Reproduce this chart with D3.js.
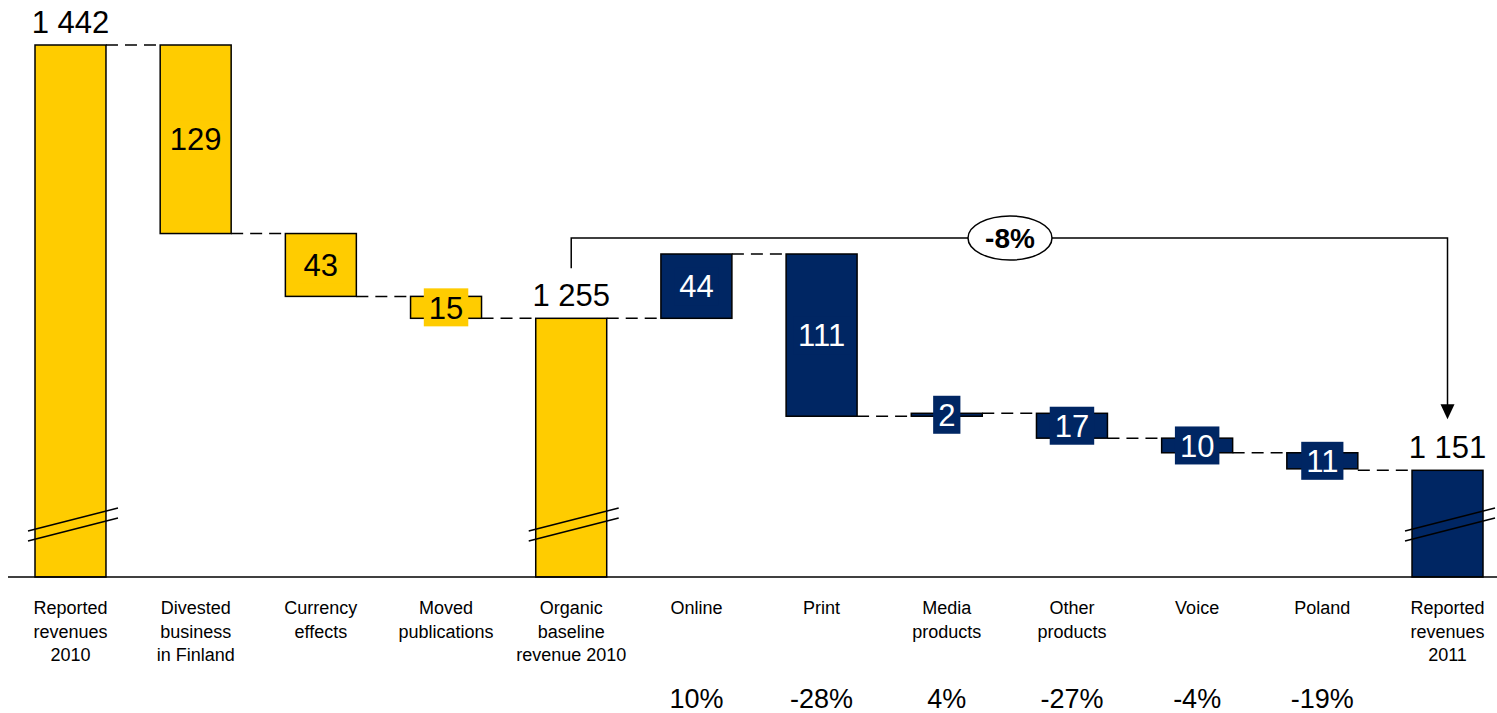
<!DOCTYPE html>
<html lang="en">
<head>
    <meta charset="UTF-8">
    <title>Revenue bridge 2010 - 2011</title>
    <script src="https://d3js.org/d3.v7.min.js"></script>
    <style>
        body {
            margin: 0;
            background: #fff;
            font-family: "Liberation Sans", Arial, sans-serif;
        }
        svg text {
            font-family: "Liberation Sans", Arial, sans-serif;
        }
        .bar {
            stroke: #000;
            stroke-width: 1.5px;
        }
        .connector {
            stroke: #000;
            stroke-width: 1.5px;
            stroke-dasharray: 12 7;
        }
        .cat {
            font-size: 18px;
            fill: #000;
        }
        .pct {
            font-size: 27px;
            fill: #000;
        }
    </style>
</head>
<body>
    <svg width="1497" height="713"></svg>
    <script>
        // chart data
        const categories = [
            ["Reported", "revenues", "2010"],
            ["Divested", "business", "in Finland"],
            ["Currency", "effects"],
            ["Moved", "publications"],
            ["Organic", "baseline", "revenue 2010"],
            ["Online"],
            ["Print"],
            ["Media", "products"],
            ["Other", "products"],
            ["Voice"],
            ["Poland"],
            ["Reported", "revenues", "2011"]
        ];
        const values = [1442, -129, -43, -15, 1255, 44, -111, 2, -17, -10, -11, 1151];
        const isTotal = [true, false, false, false, true, false, false, false, false, false, false, true];
        const valueLabels = ["1 442", "129", "43", "15", "1 255", "44", "111", "2", "17", "10", "11", "1 151"];
        const groups = ["adj", "adj", "adj", "adj", "adj", "org", "org", "org", "org", "org", "org", "org"];
        const growth = ["", "", "", "", "", "10%", "-28%", "4%", "-27%", "-4%", "-19%", ""];
        const totalChange = "-8%";
        const axisFloor = 1078;   // broken axis: bars start from here

        const svg = d3.select("svg"),
            width = +svg.attr("width"),
            baseY = 577;

        const ids = categories.map((c, i) => i);

        const x = d3.scaleBand()
            .domain(ids)
            .range([35, 1483])
            .paddingInner(0.433)
            .paddingOuter(0);

        const y = d3.scaleLinear()
            .domain([axisFloor, 1442])
            .range([baseY, 45]);

        const color = d3.scaleOrdinal()
            .domain(["adj", "org"])
            .range(["#FFCC00", "#002663"]);
        const textColor = d3.scaleOrdinal()
            .domain(["adj", "org"])
            .range(["#000", "#fff"]);

        // running levels of the waterfall
        let level = 0;
        const bars = values.map((v, i) => {
            let start, end;
            if (isTotal[i]) {
                start = axisFloor; end = v; level = v;
            } else {
                start = level; end = level + v; level = end;
            }
            return {i, v, start, end, total: isTotal[i], label: valueLabels[i], group: groups[i]};
        });

        // connectors
        const connectors = svg.append("g");
        bars.slice(0, -1).forEach((b, k) => {
            const next = bars[k + 1];
            const lvl = next.total ? next.end : b.end;
            connectors.append("line")
                .attr("class", "connector")
                .attr("x1", x(b.i) + x.bandwidth())
                .attr("x2", x(next.i))
                .attr("y1", y(lvl))
                .attr("y2", y(lvl));
        });

        // bars
        const barG = svg.append("g");
        barG.selectAll("rect")
            .data(bars)
            .join("rect")
            .attr("class", "bar")
            .attr("x", d => x(d.i))
            .attr("width", x.bandwidth())
            .attr("y", d => y(Math.max(d.start, d.end)))
            .attr("height", d => Math.abs(y(d.start) - y(d.end)))
            .attr("fill", d => color(d.group));

        // break marks on total bars
        const breakG = svg.append("g");
        bars.filter(d => d.total).forEach(d => {
            const x0 = x(d.i) - 7, x1 = x(d.i) + x.bandwidth() + 12;
            [0, 10].forEach(off => {
                breakG.append("line")
                    .attr("x1", x0).attr("y1", 531 + off)
                    .attr("x2", x1).attr("y2", 508 + off)
                    .attr("stroke", "#000")
                    .attr("stroke-width", 1.5);
            });
        });

        // baseline
        svg.append("line")
            .attr("x1", 8).attr("x2", width)
            .attr("y1", baseY).attr("y2", baseY)
            .attr("stroke", "#000")
            .attr("stroke-width", 1.5);

        // value labels
        const labG = svg.append("g");
        bars.forEach(d => {
            const cx = x(d.i) + x.bandwidth() / 2;
            if (d.total) {
                labG.append("text")
                    .attr("x", cx)
                    .attr("y", y(d.end) - 12)
                    .attr("text-anchor", "middle")
                    .attr("font-size", 31)
                    .attr("fill", "#000")
                    .text(d.label);
            } else {
                const cy = (y(d.start) + y(d.end)) / 2;
                const t = labG.append("text")
                    .attr("x", cx)
                    .attr("y", cy)
                    .attr("dy", "0.36em")
                    .attr("text-anchor", "middle")
                    .attr("font-size", 31)
                    .attr("fill", textColor(d.group))
                    .text(d.label);
                const bb = t.node().getBBox();
                labG.insert("rect", () => t.node())
                    .attr("x", bb.x - 5)
                    .attr("width", bb.width + 10)
                    .attr("y", cy - 19)
                    .attr("height", 38)
                    .attr("fill", color(d.group));
            }
        });

        // category labels
        const catG = svg.append("g");
        categories.forEach((lines, i) => {
            const t = catG.append("text")
                .attr("class", "cat")
                .attr("text-anchor", "middle")
                .attr("x", x(i) + x.bandwidth() / 2)
                .attr("y", 614);
            lines.forEach((ln, k) => {
                t.append("tspan")
                    .attr("x", x(i) + x.bandwidth() / 2)
                    .attr("dy", k === 0 ? 0 : 23.5)
                    .text(ln);
            });
        });

        // growth percentages
        svg.append("g").selectAll("text")
            .data(growth.map((g, i) => ({g, i})).filter(d => d.g))
            .join("text")
            .attr("class", "pct")
            .attr("text-anchor", "middle")
            .attr("x", d => x(d.i) + x.bandwidth() / 2)
            .attr("y", 708)
            .text(d => d.g);

        // bracket from organic baseline to 2011
        const fromI = 4, toI = 11;
        const bx0 = x(fromI) + x.bandwidth() / 2,
              bx1 = x(toI) + x.bandwidth() / 2,
              by = 238;
        const tipY = y(values[toI]) - 51;
        svg.append("path")
            .attr("d", `M${bx0},${y(values[fromI]) - 50} V${by} H${bx1} V${tipY - 14}`)
            .attr("fill", "none")
            .attr("stroke", "#000")
            .attr("stroke-width", 1.5);
        svg.append("path")
            .attr("d", `M${bx1 - 7},${tipY - 15} L${bx1 + 7},${tipY - 15} L${bx1},${tipY} Z`)
            .attr("fill", "#000");
        const ex = 1010;
        svg.append("ellipse")
            .attr("cx", ex).attr("cy", by)
            .attr("rx", 42).attr("ry", 22)
            .attr("fill", "#fff")
            .attr("stroke", "#000")
            .attr("stroke-width", 1.5);
        svg.append("text")
            .attr("x", ex).attr("y", by)
            .attr("dy", "0.36em")
            .attr("text-anchor", "middle")
            .attr("font-size", 28)
            .attr("font-weight", "bold")
            .text(totalChange);
    </script>
</body>
</html>
